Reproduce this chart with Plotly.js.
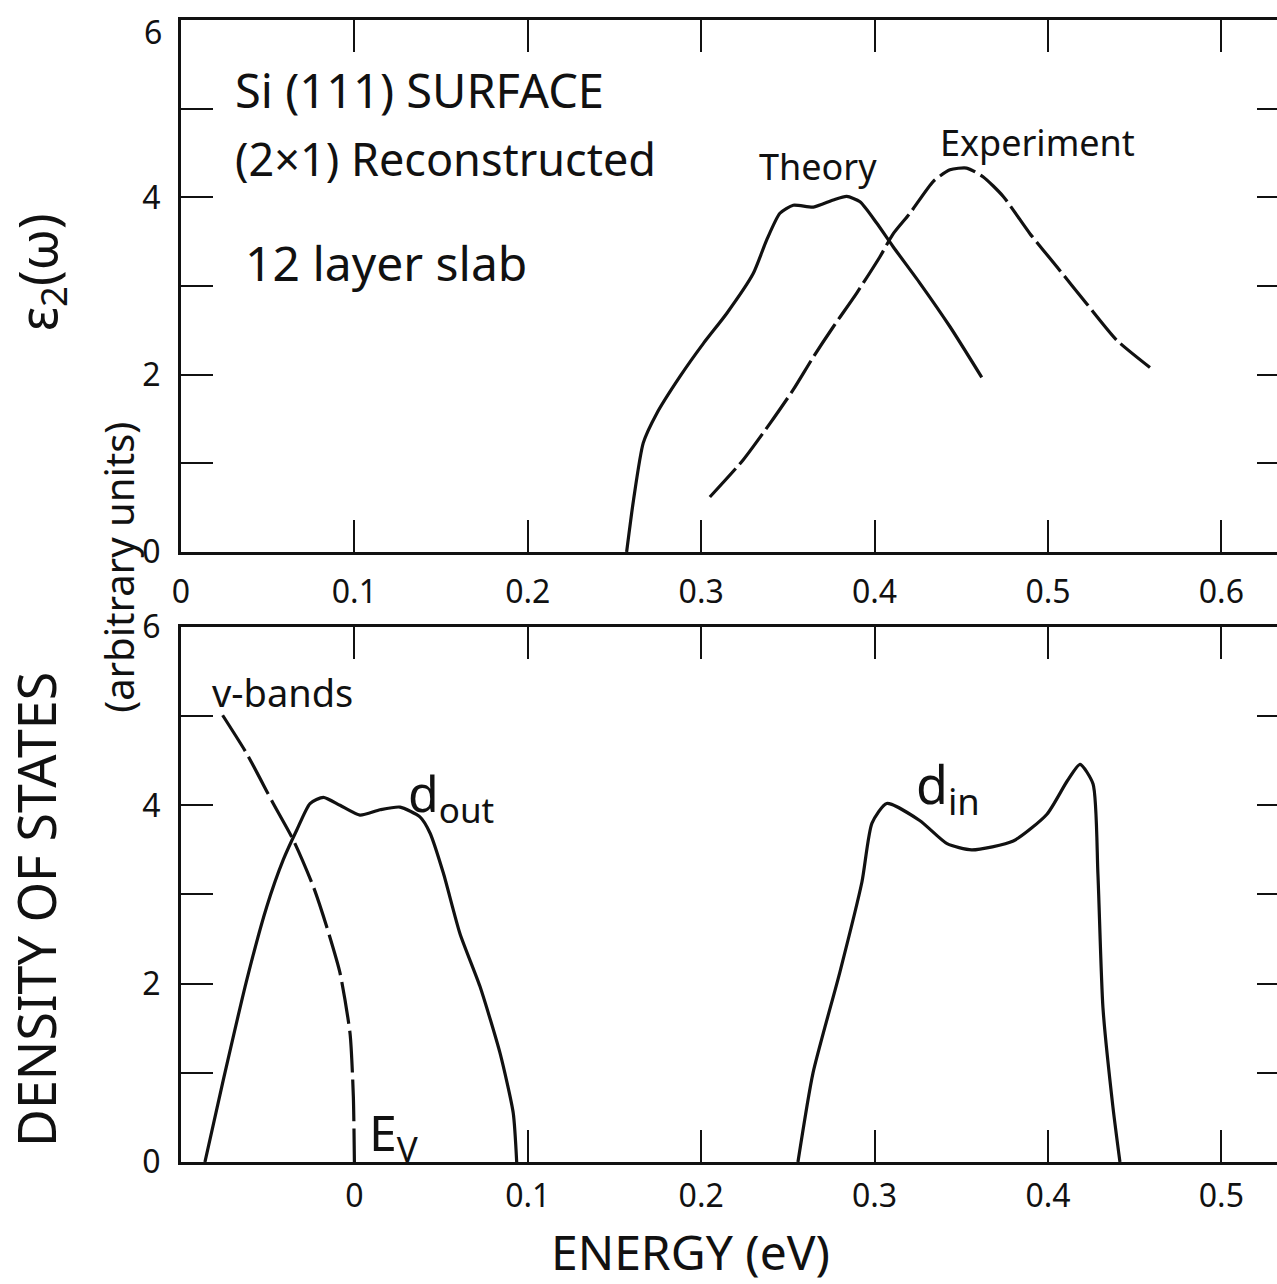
<!DOCTYPE html>
<html>
<head>
<meta charset="utf-8">
<script src="https://cdn.plot.ly/plotly-3.0.1.min.js"></script>
<style>
  html, body { margin: 0; padding: 0; background: #fff; overflow: hidden; }
  #chart { width: 1320px; height: 1284px; }
</style>
</head>
<body>
<div id="chart"></div>
<script>
// ---- Top panel: epsilon_2(omega) ----
const theoryX = [0.257, 0.261, 0.2666, 0.2743, 0.2878, 0.3012, 0.3147, 0.330, 0.3378, 0.3454, 0.3531, 0.3647, 0.3762, 0.3839, 0.3916, 0.4012, 0.4108, 0.4262, 0.4435, 0.4618];
const theoryY = [0, 0.59, 1.23, 1.56, 1.98, 2.35, 2.69, 3.14, 3.52, 3.82, 3.91, 3.89, 3.97, 4.01, 3.95, 3.71, 3.44, 3.03, 2.54, 1.97];

const experimentX = [0.305, 0.3243, 0.3397, 0.3531, 0.3647, 0.3762, 0.3897, 0.4031, 0.4108, 0.4204, 0.4339, 0.4435, 0.4531, 0.4627, 0.4742, 0.4896, 0.505, 0.5223, 0.5396, 0.5608];
const experimentY = [0.62, 1.04, 1.45, 1.83, 2.20, 2.54, 2.92, 3.33, 3.59, 3.82, 4.18, 4.31, 4.33, 4.23, 4.01, 3.59, 3.22, 2.80, 2.39, 2.05];

// ---- Bottom panel: density of states ----
const vbandsX = [-0.0760, -0.0621, -0.0468, -0.0352, -0.0237, -0.016, -0.0083, -0.0025, -0.0006, 0.0];
const vbandsY = [5.01, 4.58, 4.02, 3.61, 3.09, 2.64, 2.12, 1.44, 0.73, 0];

const doutX = [-0.0862, -0.0756, -0.0621, -0.0506, -0.041, -0.0333, -0.0256, -0.0179, -0.0083, 0.0032, 0.0148, 0.0263, 0.0378, 0.0436, 0.0513, 0.0609, 0.0724, 0.084, 0.0916, 0.0936];
const doutY = [0, 0.92, 2.04, 2.86, 3.39, 3.72, 4.02, 4.09, 4.00, 3.89, 3.95, 3.98, 3.87, 3.69, 3.24, 2.56, 1.97, 1.22, 0.55, 0];

const dinX = [0.2558, 0.2645, 0.280, 0.2927, 0.2985, 0.307, 0.326, 0.3418, 0.356, 0.380, 0.3994, 0.411, 0.4185, 0.426, 0.4288, 0.4317, 0.4375, 0.4415];
const dinY = [0, 1.0, 2.13, 3.14, 3.80, 4.02, 3.83, 3.57, 3.50, 3.60, 3.90, 4.27, 4.46, 4.24, 3.23, 1.73, 0.61, 0];

// ---- Ticks ----
const topXTicks = [0, 0.1, 0.2, 0.3, 0.4, 0.5, 0.6];
const topXLabels = ["0", "0.1", "0.2", "0.3", "0.4", "0.5", "0.6"];
const botXTicks = [-0.1, 0, 0.1, 0.2, 0.3, 0.4, 0.5];
const botXLabels = ["", "0", "0.1", "0.2", "0.3", "0.4", "0.5"];
const yTicks = [0, 1, 2, 3, 4, 5, 6];
const yLabels = ["0", "", "2", "", "4", "", "6"];
// top panel: the "6" label sits just below its tick, drawn separately so it is not cut at the page edge
const topYLabels = ["0", "", "2", "", "4", "", ""];
const topYEndLabel = "6";

const FONT = "Noto Sans, Open Sans, sans-serif";
const INK = "#111111";

const lineStyle = (dash) => ({ color: INK, width: 3.2, dash: dash, shape: "spline", smoothing: 0.6 });

const traces = [
  { x: theoryX, y: theoryY, xaxis: "x", yaxis: "y", mode: "lines", line: lineStyle("solid"), name: "Theory" },
  { x: experimentX, y: experimentY, xaxis: "x", yaxis: "y", mode: "lines", line: lineStyle("38px,6px"), name: "Experiment" },
  { x: vbandsX, y: vbandsY, xaxis: "x2", yaxis: "y2", mode: "lines", line: lineStyle("42px,7px"), name: "v-bands" },
  { x: doutX, y: doutY, xaxis: "x2", yaxis: "y2", mode: "lines", line: lineStyle("solid"), name: "d_out" },
  { x: dinX, y: dinY, xaxis: "x2", yaxis: "y2", mode: "lines", line: lineStyle("solid"), name: "d_in" }
];

const axisCommon = {
  showline: true, linecolor: INK, linewidth: 3, mirror: "ticks",
  ticks: "inside", ticklen: 32, tickwidth: 2, tickcolor: INK,
  showgrid: false, zeroline: false, fixedrange: true,
  ticklabeloverflow: "allow",
  tickfont: { family: FONT, size: 32, color: INK }
};

const layout = {
  width: 1320, height: 1284,
  margin: { l: 181, r: 31, t: 20, b: 122 },
  paper_bgcolor: "#ffffff", plot_bgcolor: "#ffffff",
  showlegend: false,
  font: { family: FONT, color: INK },
  xaxis: Object.assign({}, axisCommon, {
    domain: [0, 1], anchor: "y", range: [0, 0.639],
    tickvals: topXTicks, ticktext: topXLabels, ticklabelstandoff: 10
  }),
  yaxis: Object.assign({}, axisCommon, {
    domain: [0.5342, 1], anchor: "x", range: [0, 6],
    tickvals: yTicks, ticktext: topYLabels, ticklabelstandoff: 11
  }),
  xaxis2: Object.assign({}, axisCommon, {
    domain: [0, 1], anchor: "y2", range: [-0.1, 0.539],
    tickvals: botXTicks, ticktext: botXLabels, ticklabelstandoff: 4
  }),
  yaxis2: Object.assign({}, axisCommon, {
    domain: [0, 0.4685], anchor: "x2", range: [0, 6],
    tickvals: yTicks, ticktext: yLabels, ticklabelstandoff: 11
  }),
  annotations: [
    { xref: "paper", yref: "y", x: -0.0153, y: 6, xanchor: "right", yanchor: "middle", yshift: -11, showarrow: false,
      text: topYEndLabel, font: { family: FONT, size: 32, color: INK } },
    { xref: "x", yref: "y", x: 0.030, y: 5.21, xanchor: "left", yanchor: "middle", showarrow: false,
      text: "Si (111) SURFACE", font: { family: FONT, size: 47, color: INK } },
    { xref: "x", yref: "y", x: 0.030, y: 4.44, xanchor: "left", yanchor: "middle", showarrow: false,
      text: "(2×1) Reconstructed", font: { family: FONT, size: 45, color: INK } },
    { xref: "x", yref: "y", x: 0.0358, y: 3.27, xanchor: "left", yanchor: "middle", showarrow: false,
      text: "12 layer slab", font: { family: FONT, size: 48, color: INK } },
    { xref: "x", yref: "y", x: 0.3674, y: 4.35, xanchor: "center", yanchor: "middle", showarrow: false,
      text: "Theory", font: { family: FONT, size: 36, color: INK } },
    { xref: "x", yref: "y", x: 0.4937, y: 4.62, xanchor: "center", yanchor: "middle", showarrow: false,
      text: "Experiment", font: { family: FONT, size: 36, color: INK } },
    { xref: "x2", yref: "y2", x: -0.0412, y: 5.27, xanchor: "center", yanchor: "middle", showarrow: false,
      text: "v-bands", font: { family: FONT, size: 38, color: INK } },
    { xref: "x2", yref: "y2", x: 0.030, y: 4.1, xanchor: "left", yanchor: "middle", showarrow: false,
      text: "d<sub>out</sub>", font: { family: FONT, size: 50, color: INK } },
    { xref: "x2", yref: "y2", x: 0.323, y: 4.2, xanchor: "left", yanchor: "middle", showarrow: false,
      text: "d<sub>in</sub>", font: { family: FONT, size: 52, color: INK } },
    { xref: "x2", yref: "y2", x: 0.0072, y: 0.30, xanchor: "left", yanchor: "middle", showarrow: false,
      text: "E<sub>V</sub>", font: { family: FONT, size: 50, color: INK } },
    { xref: "paper", yref: "paper", x: 0.4594, y: -0.0785, xanchor: "center", yanchor: "middle", showarrow: false,
      text: "ENERGY (eV)", font: { family: FONT, size: 48, color: INK } },
    { xref: "paper", yref: "paper", x: -0.1318, y: 0.2215, xanchor: "center", yanchor: "middle", showarrow: false,
      textangle: -90, text: "DENSITY OF STATES", font: { family: FONT, size: 52, color: INK } },
    { xref: "paper", yref: "paper", x: -0.057, y: 0.521, xanchor: "center", yanchor: "middle", showarrow: false,
      textangle: -90, text: "(arbitrary units)", font: { family: FONT, size: 40, color: INK } },
    { xref: "paper", yref: "paper", x: -0.1273, y: 0.779, xanchor: "center", yanchor: "middle", showarrow: false,
      textangle: -90, text: "ε<sub>2</sub>(ω)", font: { family: FONT, size: 52, color: INK } }
  ]
};

Plotly.newPlot("chart", traces, layout, { staticPlot: true, displayModeBar: false });
</script>
</body>
</html>
